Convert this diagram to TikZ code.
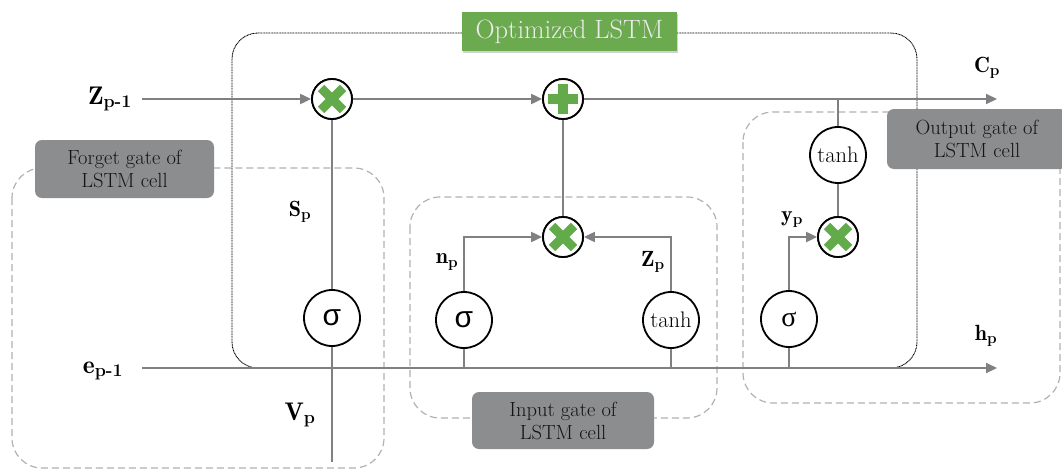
\documentclass[tikz,border=0pt]{standalone}
\usepackage{amsmath}
\usepackage{fontspec}
\newfontfamily\sigmasans{Liberation Sans}
\newfontfamily\sigmaserif{Liberation Serif}
\usetikzlibrary{arrows.meta,shadows}
\definecolor{linegray}{RGB}{128,128,130}
\definecolor{boxgray}{RGB}{178,178,178}
\definecolor{tagfill}{RGB}{140,141,143}
\definecolor{markgreen}{RGB}{98,170,74}
\definecolor{titlegreen}{RGB}{108,170,80}
\begin{document}
\begin{tikzpicture}[x=1pt,y=-1pt,
  flow/.style={draw=linegray, line width=2pt},
  arr/.style={flow, -{Triangle[length=11pt,width=10pt]}},
  gatebox/.style={draw=boxgray, line width=1.2pt, dash pattern=on 7pt off 4pt, rounded corners=30pt},
  tag/.style={fill=tagfill, rounded corners=7pt, align=center, text=black!92,
    font=\fontsize{20.5}{23}\selectfont, inner sep=0pt},
  op/.style={circle, draw=black, line width=1.8pt, fill=white, minimum size=40pt, inner sep=0pt},
  act/.style={circle, draw=black, line width=1.8pt, fill=white, minimum size=56pt, inner sep=0pt},
  biglbl/.style={font=\fontsize{25.5}{28}\selectfont},
  lbl/.style={font=\fontsize{22}{25}\selectfont},
  sig/.style={font=\fontsize{30}{31}\selectfont\sigmasans},
  th/.style={font=\fontsize{22.5}{24}\selectfont},
]
\useasboundingbox (0,0) rectangle (1062,469);
\clip (0,0) rectangle (1062,469);
\fill[white] (0,0) rectangle (1062,469);

% gate regions
\draw[gatebox] (12,168) rectangle (384,468);
\draw[gatebox] (410,197) rectangle (717,418);
\draw[gatebox] (743,112) rectangle (1060,403);

% optimized cell outline
\draw[black, line width=0.9pt, dash pattern=on 1pt off 0.6pt, rounded corners=26pt] (232,33) rectangle (917,368);

% gate captions
\node[tag, minimum width=179pt, minimum height=58pt] (forgettag) at (124.5,169) {Forget gate of\\LSTM cell};
\node[tag, minimum width=182pt, minimum height=57pt] (inputtag) at (563,420.5) {Input gate of\\LSTM cell};
\node[tag, minimum width=180pt, minimum height=60pt] (outputtag) at (977,139) {Output gate of\\LSTM cell};

% title
\node[fill=titlegreen, text=white!92!black, minimum width=215pt, minimum height=39pt, inner sep=0pt,
  drop shadow={shadow xshift=1pt, shadow yshift=-1.5pt, opacity=0.35},
  font=\fontsize{26.5}{29}\selectfont] (title) at (569.5,31.5) {Optimized LSTM};

% operators
\node[op] (fx) at (332,99) {};
\node[op] (plus) at (563,99) {};
\node[op] (ix) at (563,237) {};
\node[op] (ox) at (838,237) {};
\node[act, sig] (fs) at (332,318) {σ};
\node[act, sig] (is) at (464,320) {σ};
\node[act, th] (it) at (671,320) {tanh};
\node[act, font=\fontsize{28}{30}\selectfont\sigmaserif] (os) at (789,319) {σ};
\node[act, th] (ot) at (838,155) {tanh};

% labels
\node[biglbl] (zlab) at (110,99) {$\mathbf{Z}_{\textbf{p-1}}$};
\node[biglbl] (elab) at (103,371) {$\mathbf{e}_{\textbf{p-1}}$};
\node[biglbl] (vlab) at (300,415) {$\mathbf{V}_{\textbf{p}}$};
\node[lbl] (slab) at (300,212) {$\mathbf{S}_{\textbf{p}}$};
\node[lbl] (nlab) at (447,262) {$\mathbf{n}_{\textbf{p}}$};
\node[lbl] (zplab) at (653,262) {$\mathbf{Z}_{\textbf{p}}$};
\node[lbl] (ylab) at (792,220) {$\mathbf{y}_{\textbf{p}}$};
\node[lbl] (clab) at (987,68) {$\mathbf{C}_{\textbf{p}}$};
\node[lbl] (hlab) at (986,336) {$\mathbf{h}_{\textbf{p}}$};

% free ends
\coordinate (zin) at (142,99);
\coordinate (cout) at (997,99);
\coordinate (ein) at (142,368);
\coordinate (hout) at (997,368);
\coordinate (vin) at (332,462);
\coordinate (tap) at (838,99);

% cell state path
\draw[arr] (zin) -- (fx);
\draw[arr] (fx) -- (plus);
\draw[arr] (plus) -- (cout);
\draw[flow] (fs) -- (fx);
\draw[flow] (ix) -- (plus);
\draw[flow] (tap) -- (ot);
\draw[flow] (ot) -- (ox);

% hidden state path
\draw[arr] (ein) -- (hout);
\draw[flow] (vin) -- (fs);
\draw[flow] (is.south) -- (is |- hout);
\draw[flow] (it.south) -- (it |- hout);
\draw[flow] (os.south) -- (os |- hout);
\draw[arr] (is.north) |- (ix.west);
\draw[arr] (it.north) |- (ix.east);
\draw[arr] (os.north) |- (ox.west);

% redraw circles on top of the lines
\foreach \n in {fx,plus,ix,ox}{
  \draw[black, line width=1.8pt, fill=white] (\n) circle (20pt);
}
% multiplication marks
\foreach \n in {fx,ix,ox}{
  \draw[markgreen, line width=9pt] ([shift={(-11pt,-11pt)}]\n.center) -- ([shift={(11pt,11pt)}]\n.center);
  \draw[markgreen, line width=9pt] ([shift={(-11pt,11pt)}]\n.center) -- ([shift={(11pt,-11pt)}]\n.center);
}
% addition mark
\draw[markgreen, line width=9.5pt] ([xshift=-15pt]plus.center) -- ([xshift=15pt]plus.center);
\draw[markgreen, line width=9.5pt] ([yshift=-15pt]plus.center) -- ([yshift=15pt]plus.center);
\end{tikzpicture}
\end{document}
